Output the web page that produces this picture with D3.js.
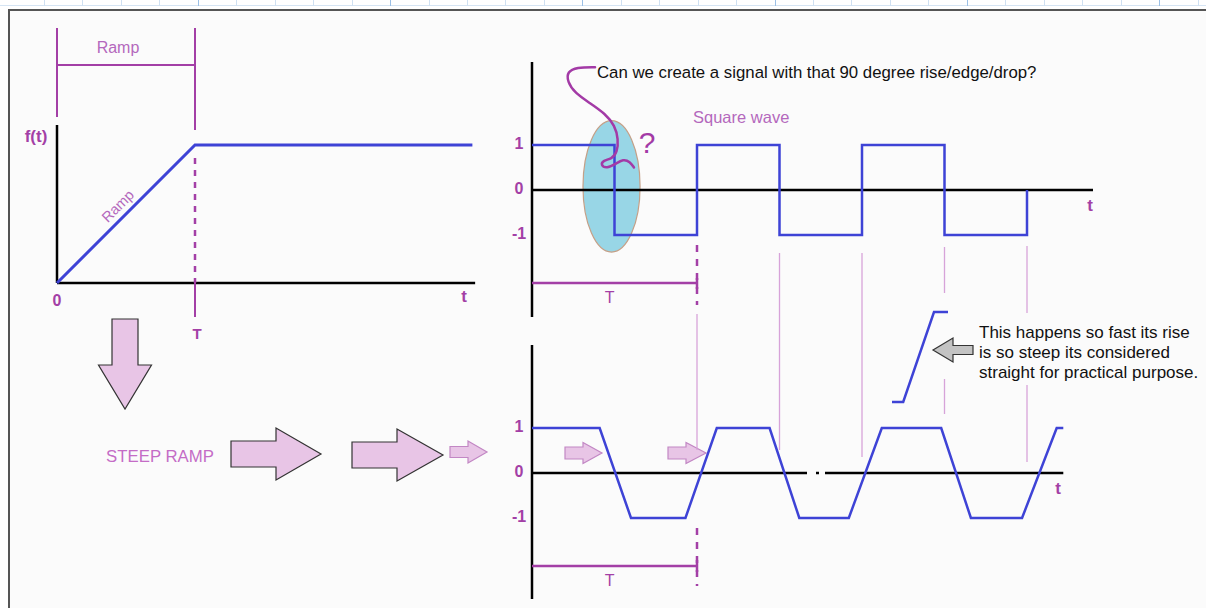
<!DOCTYPE html>
<html>
<head>
<meta charset="utf-8">
<title>Ramp and square wave</title>
<style>
  body { margin: 0; background: #ffffff; }
  svg { display: block; font-family: "Liberation Sans", Arial, sans-serif; }
</style>
</head>
<body>
<svg id="chart" width="1206" height="608"></svg>
<script src="https://cdn.jsdelivr.net/npm/d3@7/dist/d3.min.js"></script>
<script>
// ---- data ----
// left panel: ramp f(t), t in units of the ramp time T
const rampT = [0, 1, 3.01]
const rampF = [0, 1, 1]

// top right: ideal square wave, t in units of the period T
const squareT = [0, 0.5, 0.5, 1, 1, 1.5, 1.5, 2, 2, 2.5, 2.5, 3, 3]
const squareV = [1, 1, -1, -1, 1, 1, -1, -1, 1, 1, -1, -1, 0]

const trapT = [0, 0.41, 0.6, 0.93, 1.12, 1.44, 1.62, 1.92, 2.12, 2.48, 2.66, 2.97, 3.18, 3.22]
const trapV = [1, 1, -1, -1, 1, 1, -1, -1, 1, 1, -1, -1, 1, 1]

// small zoomed ramp next to the note
const insetT = [0, 0.2, 0.75, 1]
const insetV = [0, 0, 1, 1]

const levelTicks = [1, 0, -1]
const levelLabels = ["1", "0", "-1"]

// the hand drawn squiggle over the first edge (t, v of the top chart)
const squiggleT = [0.382, 0.271, 0.214, 0.214, 0.261, 0.352, 0.442, 0.503, 0.523, 0.517, 0.483, 0.432, 0.416, 0.453, 0.503, 0.553, 0.594, 0.618]
const squiggleV = [2.73, 2.73, 2.63, 2.41, 2.15, 1.93, 1.70, 1.43, 1.13, 0.84, 0.69, 0.66, 0.55, 0.48, 0.57, 0.69, 0.63, 0.50]

const noteLines = ["This happens so fast its rise", "is so steep its considered", "straight for practical purpose."]

// ---- colours ----
const blue = "#3e43d6"
const purple = "#a33fa6"
const lightPurple = "#b468bd"
const guideColor = "#d7a3d9"
const arrowFill = "#e8c5e6"

const svg = d3.select("#chart")

// page / frame
svg.append("rect").attr("x", 9).attr("y", 10).attr("width", 1200).attr("height", 600)
   .attr("fill", "#fbfbfb").attr("stroke", "#555").attr("stroke-width", 2)

// ruler strip at the very top
const ruler = svg.append("g")
ruler.append("line").attr("x1", 0).attr("x2", 1206).attr("y1", 5.5).attr("y2", 5.5)
   .attr("stroke", "#d5e4f3")
d3.range(31).forEach(i => {
  const x = Math.round(44 + i * 38.45) + 0.5
  ruler.append("line").attr("x1", x).attr("x2", x).attr("y1", 0).attr("y2", 6)
    .attr("stroke", i % 5 == 4 ? "#9cc0e6" : "#cfe0f2")
})

function txt(g, x, y, s, size, color, weight, anchor) {
  return g.append("text").attr("x", x).attr("y", y).attr("dy", ".35em")
    .attr("text-anchor", anchor || "middle")
    .attr("font-size", size).attr("font-weight", weight || "normal")
    .attr("fill", color).text(s)
}

// ================= left panel: ramp =================
const lx = d3.scaleLinear().domain([0, 1]).range([57, 195])
const ly = d3.scaleLinear().domain([0, 1]).range([283, 145])
const left = svg.append("g")

// Ramp bracket
left.append("line").attr("x1", lx(0)).attr("x2", lx(0)).attr("y1", 28).attr("y2", 117)
  .attr("stroke", purple).attr("stroke-width", 2)
left.append("line").attr("x1", lx(1)).attr("x2", lx(1)).attr("y1", 28).attr("y2", 130)
  .attr("stroke", purple).attr("stroke-width", 2)
left.append("line").attr("x1", lx(0)).attr("x2", lx(1)).attr("y1", 65).attr("y2", 65)
  .attr("stroke", purple).attr("stroke-width", 2)
txt(left, 118, 47, "Ramp", 16, lightPurple)

// axes
left.append("line").attr("x1", lx(0)).attr("x2", lx(0)).attr("y1", 125).attr("y2", ly(0))
  .attr("stroke", "#000").attr("stroke-width", 2.5)
left.append("line").attr("x1", lx(0)).attr("x2", lx(3.03)).attr("y1", ly(0)).attr("y2", ly(0))
  .attr("stroke", "#000").attr("stroke-width", 2.5)

// dashed T marker then solid tick below the axis
left.append("line").attr("x1", lx(1)).attr("x2", lx(1)).attr("y1", 158).attr("y2", ly(0))
  .attr("stroke", purple).attr("stroke-width", 2.5).attr("stroke-dasharray", "6,6")
left.append("line").attr("x1", lx(1)).attr("x2", lx(1)).attr("y1", ly(0)).attr("y2", 317)
  .attr("stroke", purple).attr("stroke-width", 2)

// ramp line
left.append("path")
  .datum(rampT.map((t, i) => [t, rampF[i]]))
  .attr("d", d3.line().x(d => lx(d[0])).y(d => ly(d[1])))
  .attr("fill", "none").attr("stroke", blue).attr("stroke-width", 3)

txt(left, 36, 136, "f(t)", 17, purple, "bold")
txt(left, lx(0), 300, "0", 16, purple, "bold")
txt(left, 464, 296, "t", 17, purple, "bold")
txt(left, lx(1) + 2, 334, "T", 15, purple, "bold")
left.append("text").attr("text-anchor", "middle").attr("dy", ".35em")
  .attr("font-size", 14.5).attr("fill", lightPurple)
  .attr("transform", `translate(${lx(0.44)},${ly(0.5) - 8}) rotate(-45)`)
  .text("Ramp")

// ================= block arrows =================
function rightArrow(x0, xh, x1, yc, sh, hh) {
  return [[x0, yc - sh / 2], [xh, yc - sh / 2], [xh, yc - hh / 2], [x1, yc],
          [xh, yc + hh / 2], [xh, yc + sh / 2], [x0, yc + sh / 2]]
}
function downArrow(xc, y0, yh, y1, sw, hw) {
  return [[xc - sw / 2, y0], [xc + sw / 2, y0], [xc + sw / 2, yh], [xc + hw / 2, yh],
          [xc, y1], [xc - hw / 2, yh], [xc - sw / 2, yh]]
}
const arrows = svg.append("g")
const bigArrows = [downArrow(125, 319, 365, 409, 26, 53),
                   rightArrow(231, 276, 321, 454, 26, 52),
                   rightArrow(352, 397, 443, 455, 26, 52)]
const smallArrows = [rightArrow(450, 468, 487, 452, 11, 22),
                     rightArrow(565, 583, 602, 453, 12, 21),
                     rightArrow(668, 686, 706, 453, 12, 21)]
arrows.selectAll(".big").data(bigArrows).join("polygon").attr("class", "big")
  .attr("points", d => d.join(" "))
  .attr("fill", arrowFill).attr("stroke", "#333").attr("stroke-width", 1.2)
arrows.selectAll(".small").data(smallArrows).join("polygon").attr("class", "small")
  .attr("points", d => d.join(" "))
  .attr("fill", arrowFill).attr("stroke", "#c287c4").attr("stroke-width", 1.2)

txt(svg, 160, 456, "STEEP RAMP", 16.8, "#c46cc6")

// ================= top right: square wave =================
const sx = d3.scaleLinear().domain([0, 1]).range([532, 697])
const sy = d3.scaleLinear().domain([-1, 1]).range([235, 145])

// guides (drawn first, under everything)
const guides = svg.append("g").attr("stroke", guideColor).attr("stroke-width", 1.3)
guides.append("line").attr("x1", sx(1)).attr("x2", sx(1)).attr("y1", 314).attr("y2", 450)
guides.append("line").attr("x1", sx(1.5)).attr("x2", sx(1.5)).attr("y1", 253).attr("y2", 450)
guides.append("line").attr("x1", sx(2)).attr("x2", sx(2)).attr("y1", 253).attr("y2", 457)
guides.append("line").attr("x1", sx(2.5)).attr("x2", sx(2.5)).attr("y1", 247).attr("y2", 293)
guides.append("line").attr("x1", sx(2.5)).attr("x2", sx(2.5)).attr("y1", 379).attr("y2", 414)
guides.append("line").attr("x1", sx(3)).attr("x2", sx(3)).attr("y1", 246).attr("y2", 313)
guides.append("line").attr("x1", sx(3)).attr("x2", sx(3)).attr("y1", 385).attr("y2", 462)

const topG = svg.append("g")

// highlight ellipse over the first edge
topG.append("ellipse")
  .attr("cx", (sx(0.309) + sx(0.655)) / 2).attr("cy", (sy(1.54) + sy(-1.38)) / 2)
  .attr("rx", (sx(0.655) - sx(0.309)) / 2).attr("ry", (sy(-1.38) - sy(1.54)) / 2)
  .attr("fill", "#98d6e6").attr("stroke", "#c4a088").attr("stroke-width", 1.2)

// axes
topG.append("line").attr("x1", sx(0)).attr("x2", sx(0)).attr("y1", 62).attr("y2", 317)
  .attr("stroke", "#000").attr("stroke-width", 2.5)
topG.append("line").attr("x1", sx(0)).attr("x2", sx(3.4)).attr("y1", sy(0)).attr("y2", sy(0))
  .attr("stroke", "#000").attr("stroke-width", 2.5)

topG.append("path")
  .datum(squareT.map((t, i) => [t, squareV[i]]))
  .attr("d", d3.line().x(d => sx(d[0])).y(d => sy(d[1])))
  .attr("fill", "none").attr("stroke", blue).attr("stroke-width", 2.5)

levelTicks.forEach((v, i) => txt(topG, sx(0) - 13, sy(v) - 2, levelLabels[i], 16, purple, "bold"))
txt(topG, 1090, 205, "t", 17, purple, "bold")

// T bracket
topG.append("line").attr("x1", sx(0)).attr("x2", sx(1)).attr("y1", 283).attr("y2", 283)
  .attr("stroke", purple).attr("stroke-width", 2.5)
topG.append("line").attr("x1", sx(1)).attr("x2", sx(1)).attr("y1", 245).attr("y2", 305)
  .attr("stroke", purple).attr("stroke-width", 2.5).attr("stroke-dasharray", "7,7")
topG.append("line").attr("x1", sx(1)).attr("x2", sx(1)).attr("y1", 278).attr("y2", 289)
  .attr("stroke", purple).attr("stroke-width", 2.5)
txt(topG, sx(0.47), 297, "T", 16, purple)

// squiggle + question mark
topG.append("path")
  .datum(squiggleT.map((t, i) => [t, squiggleV[i]]))
  .attr("d", d3.line().x(d => sx(d[0])).y(d => sy(d[1])).curve(d3.curveBasis))
  .attr("fill", "none").attr("stroke", "#a33aa6").attr("stroke-width", 2.5)
  .attr("stroke-linecap", "round")
txt(topG, 647, 142, "?", 30, "#a33aa6")

topG.append("text").attr("x", 597).attr("y", 72).attr("dy", ".35em")
  .attr("font-size", 16.8).attr("fill", "#111")
  .text("Can we create a signal with that 90 degree rise/edge/drop?")
txt(topG, 693, 117, "Square wave", 16.5, lightPurple, "normal", "start")

// ================= bottom right: steep-ramp wave =================
const by = d3.scaleLinear().domain([-1, 1]).range([518, 428])
const bottom = svg.append("g")

bottom.append("line").attr("x1", sx(0)).attr("x2", sx(0)).attr("y1", 345).attr("y2", 599)
  .attr("stroke", "#000").attr("stroke-width", 2.5)
// zero axis with a small break
bottom.append("line").attr("x1", sx(0)).attr("x2", 807).attr("y1", by(0)).attr("y2", by(0))
  .attr("stroke", "#000").attr("stroke-width", 2.5)
bottom.append("line").attr("x1", 816).attr("x2", 819).attr("y1", by(0)).attr("y2", by(0))
  .attr("stroke", "#000").attr("stroke-width", 2.5)
bottom.append("line").attr("x1", 825).attr("x2", sx(3.22)).attr("y1", by(0)).attr("y2", by(0))
  .attr("stroke", "#000").attr("stroke-width", 2.5)

bottom.append("path")
  .datum(trapT.map((t, i) => [t, trapV[i]]))
  .attr("d", d3.line().x(d => sx(d[0])).y(d => by(d[1])))
  .attr("fill", "none").attr("stroke", blue).attr("stroke-width", 2.5)

levelTicks.forEach((v, i) => txt(bottom, sx(0) - 13, by(v) - 2, levelLabels[i], 16, purple, "bold"))
txt(bottom, 1058, 488, "t", 17, purple, "bold")

bottom.append("line").attr("x1", sx(0)).attr("x2", sx(1)).attr("y1", 566).attr("y2", 566)
  .attr("stroke", purple).attr("stroke-width", 2.5)
bottom.append("line").attr("x1", sx(1)).attr("x2", sx(1)).attr("y1", 528).attr("y2", 586)
  .attr("stroke", purple).attr("stroke-width", 2.5).attr("stroke-dasharray", "7,7")
bottom.append("line").attr("x1", sx(1)).attr("x2", sx(1)).attr("y1", 560).attr("y2", 572)
  .attr("stroke", purple).attr("stroke-width", 2.5)
txt(bottom, sx(0.47), 580, "T", 16, purple)

// inset: zoomed rise
const ix = d3.scaleLinear().domain([0, 1]).range([892, 948])
const iy = d3.scaleLinear().domain([0, 1]).range([402, 312])
bottom.append("path")
  .datum(insetT.map((t, i) => [t, insetV[i]]))
  .attr("d", d3.line().x(d => ix(d[0])).y(d => iy(d[1])))
  .attr("fill", "none").attr("stroke", blue).attr("stroke-width", 2.5)

bottom.append("polygon")
  .attr("points", rightArrow(973, 953, 933, 350, 9, 24).join(" "))
  .attr("fill", "#c3c3c3").attr("stroke", "#333").attr("stroke-width", 1.2)

bottom.selectAll(".note").data(noteLines).join("text").attr("class", "note")
  .attr("x", 979).attr("y", (d, i) => 338 + i * 20)
  .attr("font-size", 17).attr("fill", "#111")
  .text(d => d)
</script>
</body>
</html>
